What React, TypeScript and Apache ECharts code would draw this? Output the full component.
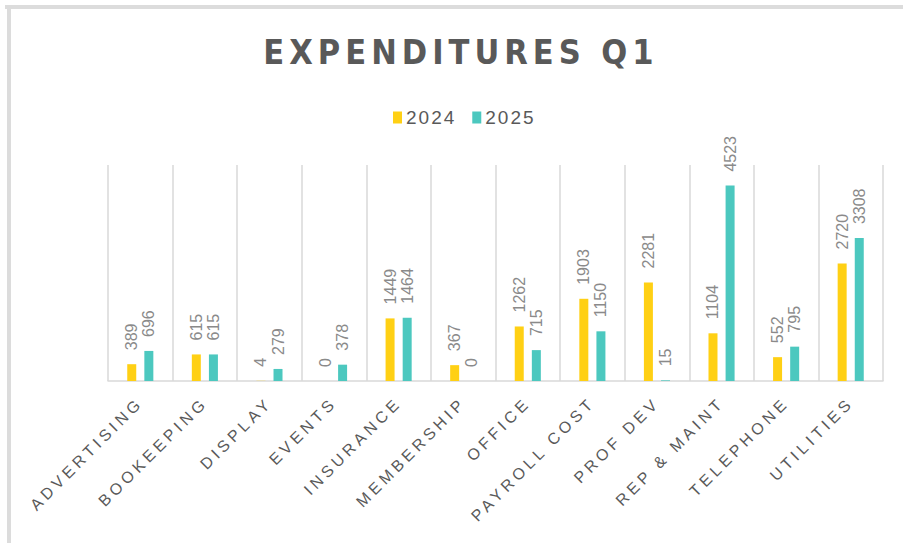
import React, { useEffect, useRef } from "react";
import * as echarts from "echarts";

const categories = [
  "ADVERTISING",
  "BOOKEEPING",
  "DISPLAY",
  "EVENTS",
  "INSURANCE",
  "MEMBERSHIP",
  "OFFICE",
  "PAYROLL COST",
  "PROF DEV",
  "REP & MAINT",
  "TELEPHONE",
  "UTILITIES",
];
const values2024 = [389, 615, 4, 0, 1449, 367, 1262, 1903, 2281, 1104, 552, 2720];
const values2025 = [696, 615, 279, 378, 1464, 0, 715, 1150, 15, 4523, 795, 3308];
const seriesNames = ["2024", "2025"];
const titleText = "EXPENDITURES Q1";

const YELLOW = "#FFD014";
const TEAL = "#4CC8BF";

export default function App() {
  const ref = useRef<HTMLDivElement>(null);

  useEffect(() => {
    document.body.style.margin = "0";
    const el = ref.current!;
    const chart = echarts.init(el, undefined, { renderer: "svg" });

    const labelCommon = {
      show: true,
      position: "top" as const,
      rotate: 90,
      align: "left" as const,
      verticalAlign: "middle" as const,
      distance: 14,
      color: "#8a8a8a",
      fontSize: 16,
      fontFamily: "'Liberation Sans', Arial, sans-serif",
    };

    chart.setOption({
      animation: false,
      backgroundColor: "#ffffff",
      title: {
        text: titleText,
        left: 456,
        textAlign: "center",
        top: 30,
        textStyle: {
          color: "#595959",
          fontSize: 34,
          fontWeight: "bold",
          fontFamily: "'Liberation Sans Narrow', 'DejaVu Sans Condensed', 'Liberation Sans', sans-serif",
        },
      },
      legend: {
        data: seriesNames,
        left: 388,
        top: 103,
        itemWidth: 9,
        itemHeight: 12,
        itemGap: 24,
        icon: "rect",
        textStyle: {
          color: "#595959",
          fontSize: 19,
          fontFamily: "'Liberation Sans', Arial, sans-serif",
          padding: [0, 0, 0, -1],
        },
      },
      graphic: [
        { type: "rect", shape: { x: 5, y: 5, width: 898, height: 4 }, style: { fill: "#dcdcdc" }, silent: true },
        { type: "rect", shape: { x: 7, y: 5, width: 4, height: 538 }, style: { fill: "#dcdcdc" }, silent: true },
      ],
      grid: { left: 108, right: 20, top: 165, bottom: 162, containLabel: false },
      xAxis: {
        type: "category",
        data: categories,
        axisLine: { show: true, lineStyle: { color: "#d9d9d9", width: 1.5 } },
        axisTick: { show: false },
        splitLine: { show: true, interval: 0, lineStyle: { color: "#d9d9d9", width: 1.5 } },
        axisLabel: {
          interval: 0,
          rotate: 45,
          margin: 19,
          color: "#595959",
          fontSize: 16,
          fontFamily: "'Liberation Sans', Arial, sans-serif",
        },
      },
      yAxis: {
        type: "value",
        min: 0,
        max: 5000,
        show: false,
        splitLine: { show: false },
      },
      series: [
        {
          name: seriesNames[0],
          type: "bar",
          data: values2024,
          barWidth: 9,
          barGap: "90%",
          itemStyle: { color: YELLOW },
          label: labelCommon,
        },
        {
          name: seriesNames[1],
          type: "bar",
          data: values2025,
          barWidth: 9,
          barGap: "90%",
          itemStyle: { color: TEAL },
          label: labelCommon,
        },
      ],
    });

    const spacing = () => {
      el.querySelectorAll("text").forEach((t) => {
        const s = t.textContent || "";
        if (s === titleText) t.setAttribute("letter-spacing", "5");
        else if (categories.includes(s)) t.setAttribute("letter-spacing", "4");
        else if (seriesNames.includes(s)) t.setAttribute("letter-spacing", "2");
      });
    };
    spacing();
    chart.on("finished", spacing);
    const timer = setTimeout(spacing, 50);

    return () => {
      clearTimeout(timer);
      chart.dispose();
    };
  }, []);

  return <div ref={ref} style={{ width: 903, height: 543, position: "absolute", left: 0, top: 0 }} />;
}
